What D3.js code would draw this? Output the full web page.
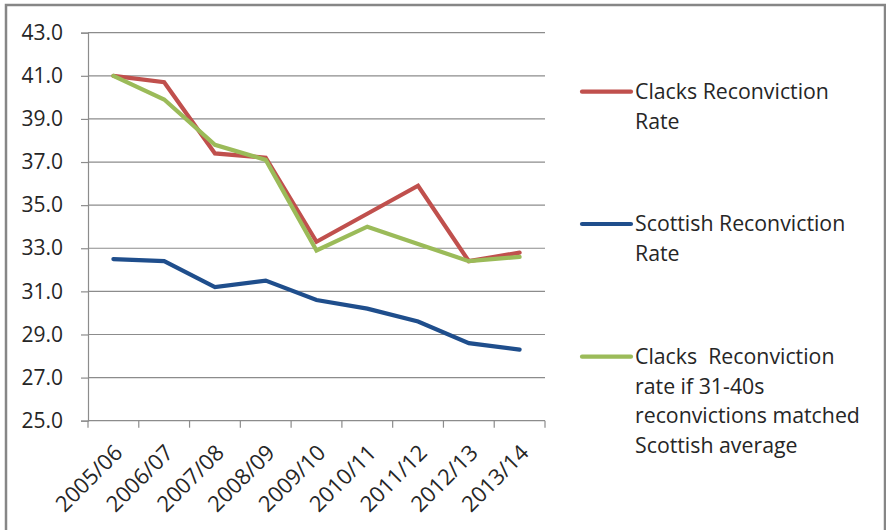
<!DOCTYPE html>
<html>
<head>
<meta charset="utf-8">
<script src="https://cdn.jsdelivr.net/npm/d3@7"></script>
<style>
  html, body { margin: 0; padding: 0; background: #fff; }
  svg { display: block; }
  text { font-family: "Open Sans", "Liberation Sans", sans-serif; fill: #262626; white-space: pre; }
</style>
</head>
<body>
<svg id="chart" width="886" height="530"></svg>
<script>
// Reconviction rates by financial year
const years = ["2005/06", "2006/07", "2007/08", "2008/09", "2009/10", "2010/11", "2011/12", "2012/13", "2013/14"];
const clacksRate   = [41.0, 40.7, 37.4, 37.2, 33.3, 34.6, 35.9, 32.4, 32.8];
const scottishRate = [32.5, 32.4, 31.2, 31.5, 30.6, 30.2, 29.6, 28.6, 28.3];
const clacksAdjusted = [41.0, 39.9, 37.8, 37.1, 32.9, 34.0, 33.2, 32.4, 32.6];
const yTicks = [25, 27, 29, 31, 33, 35, 37, 39, 41, 43];

const seriesNames = [
  ["Clacks Reconviction", "Rate"],
  ["Scottish Reconviction", "Rate"],
  ["Clacks  Reconviction", "rate if 31-40s", "reconvictions matched", "Scottish average"]
];
const seriesColors = ["#C0504D", "#1F4E8C", "#9BBB59"];

const series = [clacksRate, scottishRate, clacksAdjusted];

const svg = d3.select("#chart");

// outer frame
svg.append("rect")
  .attr("x", 6).attr("y", 5)
  .attr("width", 879).attr("height", 540)
  .attr("fill", "none")
  .attr("stroke", "#868686")
  .attr("stroke-width", 2.5);

const plot = { left: 88, right: 545, top: 32.7, bottom: 420.7 };

const x = d3.scaleBand().domain(years).range([plot.left, plot.right]).padding(0);
const y = d3.scaleLinear().domain([25, 43]).range([plot.bottom, plot.top]);

// horizontal gridlines
svg.append("g")
  .selectAll("line")
  .data(yTicks.filter(t => t > 25))
  .join("line")
  .attr("x1", plot.left).attr("x2", plot.right)
  .attr("y1", d => y(d)).attr("y2", d => y(d))
  .attr("stroke", "#8c8c8c")
  .attr("stroke-width", 1.2);

// y axis
const yAxis = svg.append("g")
  .attr("transform", `translate(${plot.left},0)`)
  .call(d3.axisLeft(y).tickValues(yTicks).tickFormat(d3.format(".1f")).tickSize(7).tickPadding(18));
yAxis.select(".domain").attr("stroke", "#8c8c8c").attr("stroke-width", 1.2);
yAxis.selectAll(".tick line").attr("stroke", "#8c8c8c").attr("stroke-width", 1.2);
yAxis.selectAll(".tick text")
  .attr("font-family", "Open Sans, sans-serif")
  .attr("font-size", 21)
  .attr("fill", "#262626");

// x axis with ticks at band edges
const xAxis = svg.append("g")
  .attr("transform", `translate(0,${plot.bottom})`);
xAxis.append("line")
  .attr("x1", plot.left).attr("x2", plot.right)
  .attr("stroke", "#8c8c8c").attr("stroke-width", 1.2);
const edges = years.map(d => x(d)).concat([x(years[years.length - 1]) + x.bandwidth()]);
xAxis.selectAll("line.edge")
  .data(edges)
  .join("line")
  .attr("class", "edge")
  .attr("x1", d => d).attr("x2", d => d)
  .attr("y1", 0).attr("y2", 7)
  .attr("stroke", "#8c8c8c").attr("stroke-width", 1.2);
xAxis.selectAll("text")
  .data(years)
  .join("text")
  .attr("transform", d => `translate(${x(d) + x.bandwidth() / 2 + 5},${28}) rotate(-45)`)
  .attr("text-anchor", "end")
  .attr("dy", "0.35em")
  .attr("font-size", 22)
  .text(d => d);

// series lines
const line = d3.line()
  .x((d, i) => x(years[i]) + x.bandwidth() / 2)
  .y(d => y(d));

svg.append("g")
  .selectAll("path")
  .data(series)
  .join("path")
  .attr("d", d => line(d))
  .attr("fill", "none")
  .attr("stroke", (d, i) => seriesColors[i])
  .attr("stroke-width", 4.2)
  .attr("stroke-linejoin", "miter")
  .attr("stroke-linecap", "round");

// legend
const legendY = [91.7, 224, 356.7];
const legend = svg.append("g");
seriesNames.forEach((lines, i) => {
  const g = legend.append("g").attr("transform", `translate(0,${legendY[i]})`);
  g.append("line")
    .attr("x1", 582).attr("x2", 631)
    .attr("y1", 0).attr("y2", 0)
    .attr("stroke", seriesColors[i])
    .attr("stroke-width", 4.2)
    .attr("stroke-linecap", "round");
  g.selectAll("text")
    .data(lines)
    .join("text")
    .attr("x", 635)
    .attr("y", (d, j) => j * 29.5)
    .attr("dy", "0.35em")
    .attr("font-size", 21.3)
    .text(d => d);
});
</script>
</body>
</html>
